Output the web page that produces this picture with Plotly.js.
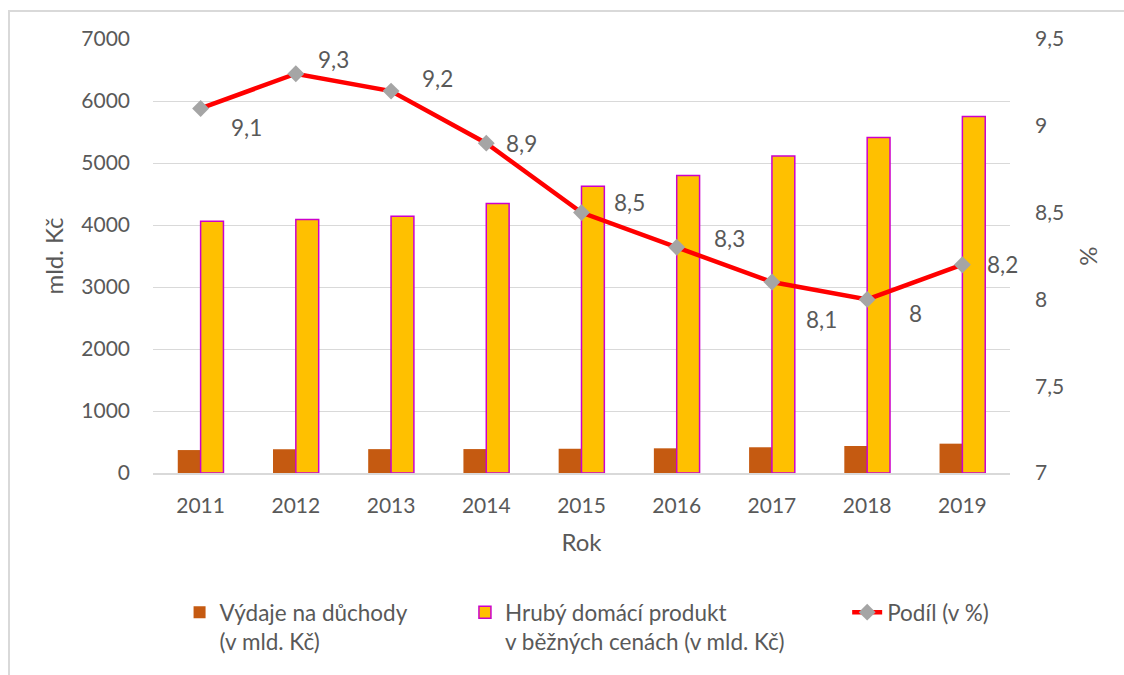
<!DOCTYPE html>
<html>
<head>
<meta charset="utf-8">
<script src="https://cdn.plot.ly/plotly-3.0.1.min.js"></script>
<style>
  html, body { margin: 0; padding: 0; background: #fff; overflow: hidden; }
  #chart { width: 1124px; height: 675px; }
  #frame { position: absolute; left: 8px; top: 10px; width: 1200px; height: 700px;
           border-left: 2px solid #d9d9d9; border-top: 2px solid #d9d9d9; pointer-events: none; }
</style>
</head>
<body>
<div id="chart"></div>
<div id="frame"></div>
<script>
const years = ["2011", "2012", "2013", "2014", "2015", "2016", "2017", "2018", "2019"];
const pensions = [370, 383, 385, 386, 391, 398, 415, 436, 473];
const gdp = [4062, 4089, 4142, 4346, 4625, 4797, 5111, 5410, 5749];
const share = [9.1, 9.3, 9.2, 8.9, 8.5, 8.3, 8.1, 8.0, 8.2];
const shareLabels = ["9,1", "9,3", "9,2", "8,9", "8,5", "8,3", "8,1", "8", "8,2"];
const labelShiftX = [46, 38, 46, 35, 48, 53, 50, 48, 40];
const labelShiftY = [-19, 14, 13, 0, 10, 9, -37, -14, 0];

function mkFont(size) { return { family: "Lato, 'Open Sans', sans-serif", size: size, color: "#595959" }; }

const traces = [
  {
    type: "bar", x: years, y: pensions, name: "Výdaje na důchody<br>(v mld. Kč)",
    marker: { color: "#C55A11" }, legend: "legend"
  },
  {
    type: "bar", x: years, y: gdp, name: "Hrubý domácí produkt<br>v běžných cenách (v mld. Kč)",
    marker: { color: "#FFC000", line: { color: "#CC00CC", width: 1.5 } }, legend: "legend2"
  },
  {
    type: "scatter", mode: "lines+markers", x: years, y: share, yaxis: "y2", name: "Podíl (v %)",
    line: { color: "#FF0000", width: 4.5 },
    marker: { symbol: "diamond", size: 13, color: "#A5A5A5" }, legend: "legend3"
  }
];

const annotations = share.map((v, i) => ({
  x: i, y: v, xref: "x", yref: "y2", text: shareLabels[i], showarrow: false,
  xshift: labelShiftX[i], yshift: labelShiftY[i], font: mkFont(22.5)
}));

function legendBase(x) {
  return { orientation: "h", yanchor: "top", xanchor: "left", y: -0.272, x: x,
    font: mkFont(22.5), bgcolor: "rgba(0,0,0,0)", valign: "top" };
}

const layout = {
  width: 1124, height: 675,
  margin: { l: 153, r: 114, t: 39, b: 202, autoexpand: false },
  paper_bgcolor: "#fff", plot_bgcolor: "#fff",
  separators: ", ",
  font: mkFont(21),
  showlegend: true,
  barmode: "group", bargap: 0.52, bargroupgap: 0,
  xaxis: {
    type: "category", range: [-0.5, 8.5], autorange: false,
    showgrid: false, showline: true, linecolor: "#d9d9d9", linewidth: 2,
    ticks: "", ticklabelstandoff: 13, tickfont: mkFont(21),
    title: { text: "Rok", font: mkFont(24), standoff: 18 }
  },
  yaxis: {
    range: [0, 7000], autorange: false, dtick: 1000, showgrid: true, gridcolor: "#d9d9d9", gridwidth: 1,
    zeroline: false, showline: false, ticks: "", ticklabelstandoff: 22, tickfont: mkFont(21),
    title: { text: "mld. Kč", font: mkFont(24), standoff: 10 }
  },
  yaxis2: {
    overlaying: "y", side: "right", range: [7, 9.5], autorange: false, dtick: 0.5, showgrid: false,
    zeroline: false, showline: false, ticks: "", ticklabelstandoff: 24, tickfont: mkFont(21),
    title: { text: "%", font: mkFont(24), standoff: 17 }
  },
  legend: legendBase(0.031),
  legend2: legendBase(0.364),
  legend3: legendBase(0.81),
  annotations: annotations
};

Plotly.newPlot("chart", traces, layout, { displayModeBar: false });
</script>
</body>
</html>
